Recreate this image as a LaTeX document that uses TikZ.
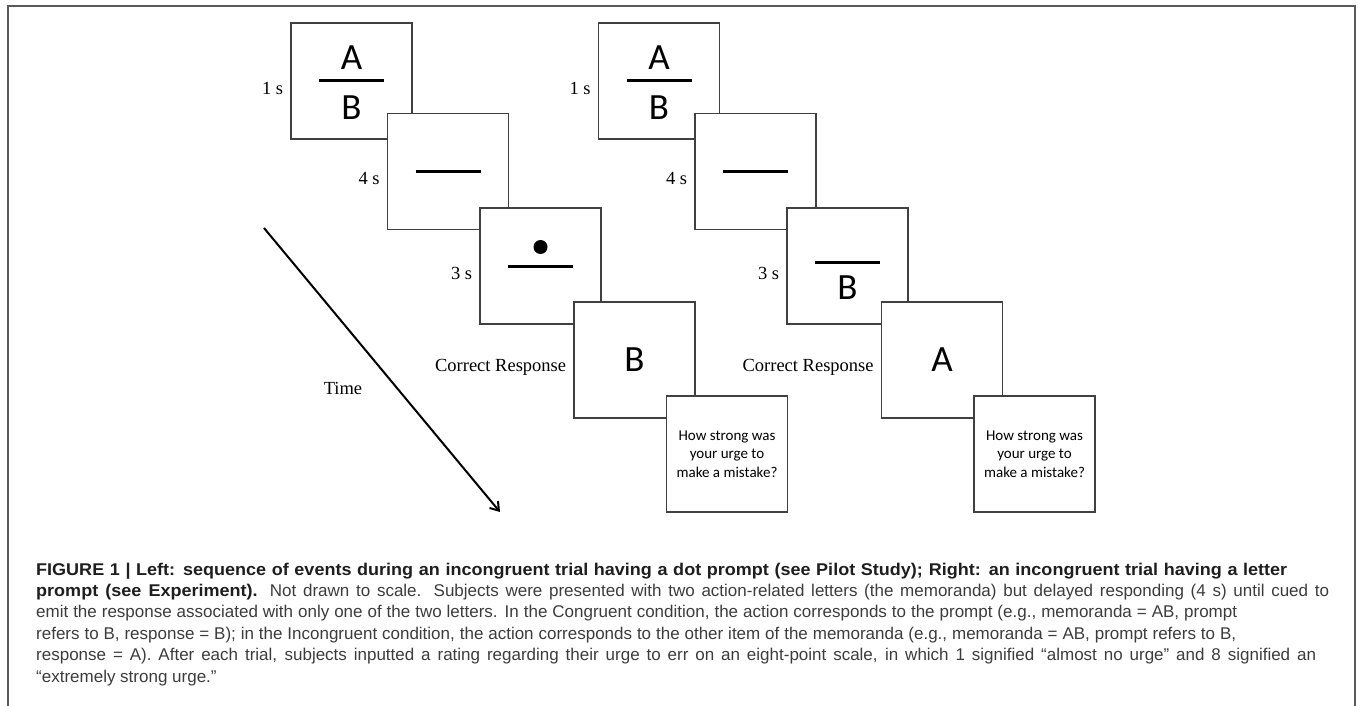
\documentclass[tikz,border=0pt]{standalone}
\usepackage{fontspec}
\setmainfont{Liberation Serif}
\setsansfont{Liberation Sans}
\newfontfamily\stimfont{Carlito}
\newfontfamily\capboldfont[FakeStretch=1.06]{Liberation Sans Bold}
\usetikzlibrary{arrows.meta}
\definecolor{framegray}{HTML}{5A5A5A}
\definecolor{captext}{HTML}{3C3C3C}
\definecolor{capbold}{HTML}{1E1E1E}
\tikzset{
  screen/.style={draw=black!75, fill=white, line width=1.4pt, minimum width=121pt, minimum height=116pt, inner sep=0pt},
  letter/.style={font=\stimfont\fontsize{37}{40}\selectfont, inner sep=0pt},
  cue/.style={line width=3pt},
  dur/.style={font=\fontsize{18.5}{20}\selectfont, anchor=east, inner sep=0pt},
  query/.style={font=\stimfont\fontsize{15}{18.5}\selectfont, align=center, inner sep=0pt},
  capline/.style={font=\sffamily\fontsize{17}{20}\selectfont, text=captext, anchor=base west, inner sep=0pt},
}
\newcommand{\capbf}[1]{{\capboldfont\color{capbold}#1}}
\newcommand{\capfill}[2]{\makebox[#1pt][s]{#2}}

\begin{document}
\begin{tikzpicture}[x=1pt, y=-1pt]
                            \useasboundingbox (0,0) rectangle (1358,706);
                            \draw[framegray, line width=2pt] (7.5,706) -- (7.5,6.5) -- (1354.5,6.5) -- (1354.5,706);

                            \node[screen] (b1) at (351.5,81) {};
                            \node[letter] (b1a) at ([yshift=23pt]b1.center) {A};
                            \node[letter] (b1b) at ([yshift=-27pt]b1.center) {B};
                            \draw[cue] ([xshift=-32.5pt]b1.center) -- ([xshift=32.5pt]b1.center);
                            \node[screen] (b2) at (448,171.5) {};
                            \draw[cue] ([xshift=-32.5pt]b2.center) -- ([xshift=32.5pt]b2.center);
                            \node[screen] (b3) at (540.5,266) {};
                            \fill ([yshift=19pt]b3.center) circle (7pt);
                            \draw[cue] ([xshift=-32.5pt]b3.center) -- ([xshift=32.5pt]b3.center);
                            \node[screen] (b4) at (634.5,360) {};
                            \node[letter] (b4b) at (b4.center) {B};
                            \node[screen] (b5) at (727,454) {};
                            \node[query] (b5q) at (b5.center) {How strong was\\your urge to\\make a mistake?};

                            \node[dur] (l1) at ([xshift=-7pt,yshift=-7pt]b1.west) {1 s};
                            \node[dur] (l2) at ([xshift=-7pt,yshift=-7pt]b2.west) {4 s};
                            \node[dur] (l3) at ([xshift=-7pt,yshift=-7pt]b3.west) {3 s};
                            \node[dur] (l4) at ([xshift=-7pt,yshift=-7pt]b4.west) {Correct Response};

                            \node[screen] (r1) at (659,81) {};
                            \node[letter] (r1a) at ([yshift=23pt]r1.center) {A};
                            \node[letter] (r1b) at ([yshift=-27pt]r1.center) {B};
                            \draw[cue] ([xshift=-32.5pt]r1.center) -- ([xshift=32.5pt]r1.center);
                            \node[screen] (r2) at (755.5,171.5) {};
                            \draw[cue] ([xshift=-32.5pt]r2.center) -- ([xshift=32.5pt]r2.center);
                            \node[screen] (r3) at (847.5,266) {};
                            \draw[cue] ([xshift=-32.5pt,yshift=4pt]r3.center) -- ([xshift=32.5pt,yshift=4pt]r3.center);
                            \node[letter] (r3b) at ([yshift=-22pt]r3.center) {B};
                            \node[screen] (r4) at (942,360) {};
                            \node[letter] (r4a) at (r4.center) {A};
                            \node[screen] (r5) at (1034.5,454) {};
                            \node[query] (r5q) at (r5.center) {How strong was\\your urge to\\make a mistake?};

                            \node[dur] (m1) at ([xshift=-7pt,yshift=-7pt]r1.west) {1 s};
                            \node[dur] (m2) at ([xshift=-7pt,yshift=-7pt]r2.west) {4 s};
                            \node[dur] (m3) at ([xshift=-7pt,yshift=-7pt]r3.west) {3 s};
                            \node[dur] (m4) at ([xshift=-7pt,yshift=-7pt]r4.west) {Correct Response};

                            \coordinate (tstart) at (264,228);
                            \coordinate (tend) at (500,512);
                            \draw[line width=2pt, -{Straight Barb[length=8pt,width=11pt]}] (tstart) -- (tend);
                            \node[dur, anchor=center] (time) at (343,388) {Time};

                            \node[capline] (c1) at (36,575) {\capfill{1251}{\capbf{FIGURE 1 | Left: sequence of events during an incongruent trial having a dot prompt (see Pilot Study); Right: an incongruent trial having a letter}}};
                            \node[capline] (c2) at (36,596.4) {\capfill{1293}{\capbf{prompt (see Experiment).} Not drawn to scale. Subjects were presented with two action-related letters (the memoranda) but delayed responding (4 s) until cued to}};
                            \node[capline] (c3) at (36,617.8) {\capfill{1201}{emit the response associated with only one of the two letters. In the Congruent condition, the action corresponds to the prompt (e.g., memoranda = AB, prompt}};
                            \node[capline] (c4) at (36,639.2) {\capfill{1200}{refers to B, response = B); in the Incongruent condition, the action corresponds to the other item of the memoranda (e.g., memoranda = AB, prompt refers to B,}};
                            \node[capline] (c5) at (36,660.6) {\capfill{1280}{response = A). After each trial, subjects inputted a rating regarding their urge to err on an eight-point scale, in which 1 signified “almost no urge” and 8 signified an}};
                            \node[capline] (c6) at (36,682) {“extremely strong urge.”};
                        \end{tikzpicture}
\end{document}
